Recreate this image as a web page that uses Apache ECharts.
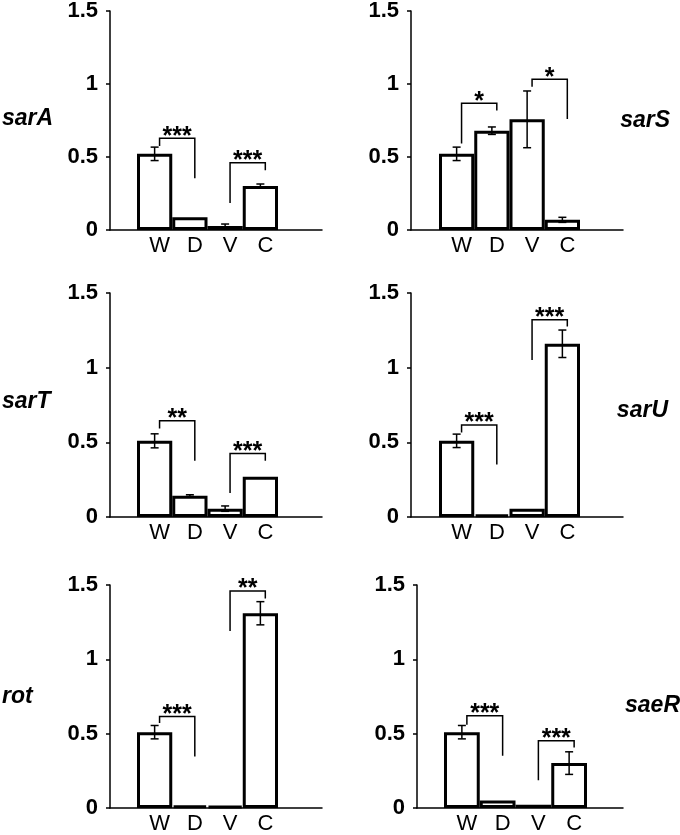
<!DOCTYPE html>
<html>
<head>
<meta charset="utf-8">
<script src="https://cdn.jsdelivr.net/npm/echarts@6/dist/echarts.min.js"></script>
<style>
  html, body { margin: 0; padding: 0; background: #fff; }
  #chart { width: 680px; height: 835px; }
</style>
</head>
<body>
<div id="chart"></div>
<script>
// strains on the x axis
const groups = ['W', 'D', 'V', 'C'];
const genes = ['sarA', 'sarS', 'sarT', 'sarU', 'rot', 'saeR'];

// relative expression (mean) and error per gene
const sarAMean = [0.51, 0.085, 0.027, 0.295];
const sarAErr = [0.045, 0, 0.013, 0.013];
const sarSMean = [0.51, 0.665, 0.741, 0.068];
const sarSErr = [0.045, 0.025, 0.19, 0.017];
const sarTMean = [0.51, 0.143, 0.056, 0.269];
const sarTErr = [0.047, 0.006, 0.018, 0];
const sarUMean = [0.51, 0.018, 0.056, 1.16];
const sarUErr = [0.045, 0, 0, 0.092];
const rotMean = [0.51, 0.018, 0.013, 1.31];
const rotErr = [0.045, 0, 0, 0.078];
const saeRMean = [0.51, 0.051, 0.022, 0.302];
const saeRErr = [0.045, 0, 0, 0.076];

// significance brackets: [from, to, left leg bottom, top, right leg bottom, stars]
const sarABrackets = [[0, 1, 0.563, 0.614, 0.346, '***'], [2, 3, 0.18, 0.45, 0.40, '***']];
const sarSBrackets = [[0, 1, 0.58, 0.849, 0.80, '*'], [2, 3, 0.96, 1.01, 0.743, '*']];
const sarTBrackets = [[0, 1, 0.593, 0.645, 0.376, '**'], [2, 3, 0.161, 0.425, 0.376, '***']];
const sarUBrackets = [[0, 1, 0.566, 0.616, 0.351, '***'], [2, 3, 1.052, 1.321, 1.276, '***']];
const rotBrackets = [[0, 1, 0.571, 0.616, 0.347, '***'], [2, 3, 1.191, 1.46, 1.41, '**']];
const saeRBrackets = [[0, 1, 0.56, 0.62, 0.351, '***'], [2, 3, 0.186, 0.452, 0.407, '***']];

const means = [sarAMean, sarSMean, sarTMean, sarUMean, rotMean, saeRMean];
const errs = [sarAErr, sarSErr, sarTErr, sarUErr, rotErr, saeRErr];
const brackets = [sarABrackets, sarSBrackets, sarTBrackets, sarUBrackets, rotBrackets, saeRBrackets];

// panel layout (pixels)
const layout = [
  { axis: 110, barL: 137, barR: 278, end: 322, top: 6, bottom: 230, lx: 2, ly: 119, la: 'left' },
  { axis: 411, barL: 439, barR: 580, end: 623, top: 6, bottom: 230, lx: 670, ly: 121, la: 'right' },
  { axis: 110, barL: 137, barR: 278, end: 322, top: 293, bottom: 517, lx: 2, ly: 402, la: 'left' },
  { axis: 411, barL: 439, barR: 580, end: 623, top: 293, bottom: 517, lx: 668, ly: 411, la: 'right' },
  { axis: 110, barL: 137, barR: 278, end: 322, top: 585, bottom: 808, lx: 2, ly: 697, la: 'left' },
  { axis: 417, barL: 444, barR: 587, end: 623, top: 585, bottom: 808, lx: 680, ly: 706, la: 'right' }
];

const FONT = 'Liberation Sans, Arial, sans-serif';

let grid = [], xAxis = [], yAxis = [], series = [], graphic = [];

layout.forEach((p, k) => {
  const h = p.bottom - p.top;
  // frame grid: axis lines and y labels
  grid.push({ left: p.axis, top: p.top, width: p.end - p.axis, height: h });
  // bar grid
  grid.push({ left: p.barL, top: p.top, width: p.barR - p.barL, height: h });

  xAxis.push({
    gridIndex: 2 * k, type: 'value', min: 0, max: 1,
    axisLine: { show: true, lineStyle: { color: '#000', width: 1.5 } },
    axisTick: { show: false }, axisLabel: { show: false }, splitLine: { show: false }
  });
  xAxis.push({
    gridIndex: 2 * k + 1, type: 'category', data: groups,
    axisLine: { show: false }, axisTick: { show: false },
    axisLabel: { color: '#000', fontSize: 22, fontFamily: FONT, margin: 5, padding: [0, 0, 0, 10] }
  });
  yAxis.push({
    gridIndex: 2 * k, type: 'value', min: 0, max: 1.5, interval: 0.5,
    axisLine: { show: true, lineStyle: { color: '#000', width: 1.5 } },
    axisTick: { show: true, length: 4, lineStyle: { color: '#000', width: 1.5 } },
    axisLabel: { color: '#000', fontSize: 22, fontWeight: 'bold', fontFamily: FONT, margin: 12 },
    splitLine: { show: false }
  });
  yAxis.push({ gridIndex: 2 * k + 1, type: 'value', min: 0, max: 1.5, show: false });

  series.push({
    type: 'bar', xAxisIndex: 2 * k + 1, yAxisIndex: 2 * k + 1,
    data: means[k], barWidth: '100%',
    itemStyle: { color: '#fff', borderColor: '#000', borderWidth: 3 },
    silent: true, z: 2
  });

  series.push({
    type: 'custom', xAxisIndex: 2 * k + 1, yAxisIndex: 2 * k + 1,
    data: means[k].map((m, i) => [i, m, errs[k][i]]),
    encode: { x: 0, y: 1 }, z: 3, silent: true,
    renderItem: (params, api) => {
      const i = api.value(0), m = api.value(1), e = api.value(2);
      if (!e) return null;
      const hi = api.coord([i, m + e]), lo = api.coord([i, m - e]);
      const c = 4, st = { stroke: '#000', lineWidth: 1.5 };
      return {
        type: 'group', children: [
          { type: 'line', shape: { x1: hi[0], y1: hi[1], x2: lo[0], y2: lo[1] }, style: st },
          { type: 'line', shape: { x1: hi[0] - c, y1: hi[1], x2: hi[0] + c, y2: hi[1] }, style: st },
          { type: 'line', shape: { x1: lo[0] - c, y1: lo[1], x2: lo[0] + c, y2: lo[1] }, style: st }
        ]
      };
    }
  });

  const br = brackets[k];
  series.push({
    type: 'custom', xAxisIndex: 2 * k + 1, yAxisIndex: 2 * k + 1,
    data: br.map(b => b.slice(0, 5)),
    encode: { x: 0, y: 3 }, z: 4, silent: true, clip: false,
    renderItem: (params, api) => {
      const b = br[params.dataIndex];
      const off = api.size([1, 0])[0] * 0.14;
      const a = api.coord([b[0], b[2]]), t = api.coord([b[0], b[3]]), c = api.coord([b[1], b[4]]);
      const x1 = a[0] + off, x2 = c[0] + off;
      return {
        type: 'group', children: [
          {
            type: 'polyline',
            shape: { points: [[x1, a[1]], [x1, t[1]], [x2, t[1]], [x2, c[1]]] },
            style: { stroke: '#000', lineWidth: 1.5, fill: null }
          },
          {
            type: 'text', x: (x1 + x2) / 2, y: t[1] + 11,
            style: { text: b[5], fill: '#000', fontSize: 25, fontWeight: 'bold', fontFamily: FONT, align: 'center', verticalAlign: 'bottom' }
          }
        ]
      };
    }
  });

  graphic.push({
    type: 'text', x: p.lx, y: p.ly,
    style: { text: genes[k], fill: '#000', fontSize: 23, fontWeight: 'bold', fontStyle: 'italic', fontFamily: FONT, align: p.la, verticalAlign: 'middle' }
  });
});

const chart = echarts.init(document.getElementById('chart'), null, { renderer: 'canvas' });
chart.setOption({
  backgroundColor: '#fff',
  animation: false,
  grid, xAxis, yAxis, series, graphic
});
</script>
</body>
</html>
